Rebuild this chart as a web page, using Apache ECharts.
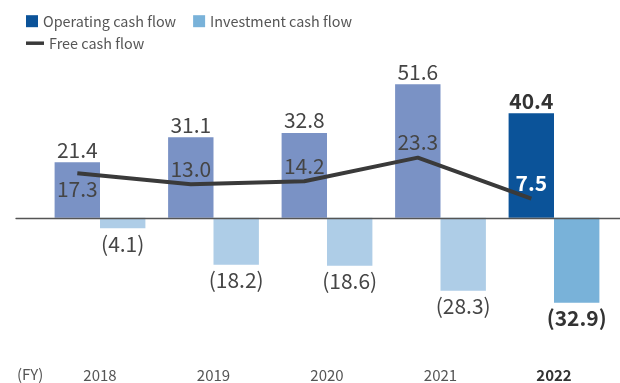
<!DOCTYPE html>
<html>
<head>
<meta charset="utf-8">
<script src="https://cdn.jsdelivr.net/npm/echarts@6/dist/echarts.min.js"></script>
<style>
  html, body { margin: 0; padding: 0; background: #ffffff; }
  #chart { width: 620px; height: 383px; }
</style>
</head>
<body>
<div id="chart"></div>
<script>
// Fiscal years and cash flows (billions)
const years = ['2018', '2019', '2020', '2021', '2022'];
const operatingCF = [21.4, 31.1, 32.8, 51.6, 40.4];
const investmentCF = [-4.1, -18.2, -18.6, -28.3, -32.9];
const freeCF = [17.3, 13.0, 14.2, 23.3, 7.5];

const FONT = '"Noto Sans CJK JP", "Noto Sans", sans-serif';
const latest = years.length - 1;          // current year is emphasised
const Y_MIN = -40, Y_MAX = 60;

const C_OP = '#7a92c5', C_OP_HL = '#0b5399';
const C_INV = '#aecde7', C_INV_HL = '#79b2d9';
const C_LINE = '#3a3a3a';
const C_TEXT = '#454545';

// Plot geometry shared by the bar grid and the line grid
const GRID_TOP = 62.6, GRID_H = 259;
const BAR_LEFT = 43.25, BAR_W = 567.5;
const HALF_BAR = BAR_W / years.length * 0.4 / 2;

const fmt = v => v.toFixed(1);
const fmtNeg = v => '(' + Math.abs(v).toFixed(1) + ')';

const labelBase = { fontFamily: FONT, fontSize: 21, color: C_TEXT };
const hlLabel = { fontWeight: 'bold', color: '#333333' };

const opData = operatingCF.map((v, i) => ({
  value: v,
  itemStyle: { color: i === latest ? C_OP_HL : C_OP },
  label: i === latest ? hlLabel : {}
}));
const invData = investmentCF.map((v, i) => ({
  value: v,
  itemStyle: { color: i === latest ? C_INV_HL : C_INV },
  label: i === latest ? hlLabel : {}
}));
const fcfData = freeCF.map((v, i) => ({
  value: v,
  label: Object.assign(
    { position: i === 0 ? 'bottom' : 'top' },
    i === latest ? { color: '#ffffff', fontWeight: 'bold' } : {}
  )
}));

const chart = echarts.init(document.getElementById('chart'), null, { renderer: 'canvas' });

const legendText = { fontFamily: FONT, fontSize: 14.4, color: '#555555' };

chart.setOption({
  animation: false,
  backgroundColor: '#ffffff',
  textStyle: { fontFamily: FONT },
  legend: [
    {
      data: ['Operating cash flow', 'Investment cash flow'],
      left: 26, top: 14, padding: 0,
      icon: 'rect', itemWidth: 12, itemHeight: 12, itemGap: 17,
      textStyle: legendText
    },
    {
      data: [{ name: 'Free cash flow', icon: 'rect' }],
      left: 26, top: 36, padding: 0,
      itemWidth: 18, itemHeight: 3.5,
      itemStyle: { color: C_LINE },
      lineStyle: { color: C_LINE, width: 3.5 },
      textStyle: legendText
    }
  ],
  grid: [
    { left: BAR_LEFT, width: BAR_W, top: GRID_TOP, height: GRID_H },
    { left: BAR_LEFT - HALF_BAR, width: BAR_W, top: GRID_TOP, height: GRID_H },
    { left: 16, right: 0, top: GRID_TOP, height: GRID_H }
  ],
  xAxis: [
    {
      type: 'category', gridIndex: 0,
      data: years.map((y, i) => i === latest
        ? { value: y, textStyle: { fontWeight: 'bold', color: '#333333' } }
        : y),
      axisLine: { show: false }, axisTick: { show: false },
      axisLabel: { margin: 47, fontFamily: FONT, fontSize: 15, color: '#555555' }
    },
    { type: 'category', gridIndex: 1, data: years, show: false },
    {
      type: 'value', gridIndex: 2, min: 0, max: 1, z: 10,
      axisLine: { show: true, onZero: true, lineStyle: { color: '#555555', width: 1.3 } },
      axisTick: { show: false }, axisLabel: { show: false }, splitLine: { show: false }
    }
  ],
  yAxis: [
    { type: 'value', gridIndex: 0, min: Y_MIN, max: Y_MAX, show: false, splitLine: { show: false } },
    { type: 'value', gridIndex: 1, min: Y_MIN, max: Y_MAX, show: false, splitLine: { show: false } },
    { type: 'value', gridIndex: 2, min: Y_MIN, max: Y_MAX, show: false, splitLine: { show: false } }
  ],
  graphic: [
    {
      type: 'text', left: 17, top: 367,
      style: { text: '(FY)', font: '15px ' + FONT, fill: '#555555' }
    }
  ],
  series: [
    {
      name: 'Operating cash flow', type: 'bar',
      xAxisIndex: 0, yAxisIndex: 0,
      barWidth: '40%', barGap: '0%',
      itemStyle: { color: C_OP_HL },
      label: Object.assign({ show: true, position: 'top', distance: 2, formatter: p => fmt(p.value) }, labelBase),
      data: opData, z: 2
    },
    {
      name: 'Investment cash flow', type: 'bar',
      xAxisIndex: 0, yAxisIndex: 0,
      barWidth: '40%', barGap: '0%',
      itemStyle: { color: C_INV_HL },
      label: Object.assign({ show: true, position: 'bottom', distance: 5, formatter: p => fmtNeg(p.value) }, labelBase),
      data: invData, z: 2
    },
    {
      name: 'Free cash flow', type: 'line',
      xAxisIndex: 1, yAxisIndex: 1,
      symbol: 'circle', symbolSize: 0.01, showSymbol: true,
      lineStyle: { color: C_LINE, width: 4 },
      itemStyle: { color: C_LINE },
      label: Object.assign({ show: true, distance: 5, formatter: p => fmt(p.value) }, labelBase),
      data: fcfData, z: 5
    }
  ]
});
</script>
</body>
</html>
